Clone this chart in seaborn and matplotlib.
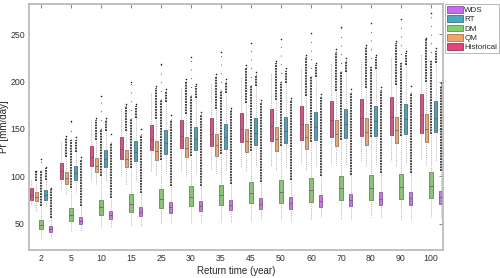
# Return-level boxplots: historical vs. four downscaling methods
import numpy as np
import pandas as pd
import matplotlib
matplotlib.use("Agg")
import matplotlib.pyplot as plt
import matplotlib.colors as mcolors
from matplotlib.patches import Patch
import seaborn as sns

sns.set_theme(style="white")
plt.rcParams["font.family"] = ["Liberation Sans", "DejaVu Sans"]

# Parameters
return_time = [2, 5, 10, 15, 25, 30, 35, 45, 50, 60, 70, 80, 90, 100]
methods = ["Historical", "QM", "DM", "RT", "WDS"]        # left-to-right inside a group
legend_order = ["WDS", "RT", "DM", "QM", "Historical"]
palette = {"Historical": "#E2457C", "QM": "#F2A46E", "DM": "#86CF6E",
           "RT": "#4EA7BE", "WDS": "#C76DEB"}

# Box statistics (mm/day)
hist_lo  = [70, 86, 94.6, 99.9, 104, 105, 107, 109.4, 111, 113, 113, 115.7, 115.7, 118]
hist_q1  = [74.6, 97.4, 110.4, 118.5, 127.3, 129.8, 131.5, 135.7, 136.8, 138.6, 141, 142, 143.8, 145.6]
hist_med = [80, 105, 120, 129, 139, 143, 145, 150, 153, 155, 159, 161, 163, 165]
hist_q3  = [87.6, 114, 131.5, 141.4, 153.6, 158.9, 161.4, 167.3, 171, 174.7, 179, 181.8, 184.2, 186.7]
hist_hi  = [96, 135.7, 159.6, 172, 187.8, 193, 198, 205, 208.9, 214, 219.4, 223, 226.4, 229]
hist_dense = hist_hi
hist_max = hist_hi

qm_lo  = [63, 80.6, 91, 91, 99.9, 100, 102.7, 105, 105, 107, 110.4, 110.4, 110.4, 112]
qm_q1  = [73.5, 92, 104, 109.8, 117.5, 119.9, 121.7, 125.6, 127, 128.7, 131.5, 133.3, 135, 135.7]
qm_med = [78, 98, 111, 118, 127, 130, 133, 137, 139, 141, 145, 147, 149, 150]
qm_q3  = [83.4, 104.5, 119.3, 127.3, 137.5, 141.4, 144.9, 149.8, 152, 155.4, 159, 161.4, 163, 165.7]
qm_hi  = [95, 120, 138, 148, 160, 166, 171, 177, 180, 185, 190, 193, 196, 200]
qm_dense = [105, 140, 159.6, 173.7, 193, 200, 205, 214.8, 219.4, 226, 231.7, 237, 241, 244.7]
qm_max = [106, 142, 162, 176, 195, 203, 208, 217, 222, 228, 234, 239, 243, 246]

dm_lo  = [33, 40.5, 45.5, 47, 50, 50.7, 51.8, 52.4, 53.5, 54.2, 53.5, 55.3, 54.2, 56]
dm_q1  = [43.7, 52.4, 58.8, 62.3, 66.5, 68.2, 69.3, 71.8, 71.8, 72.9, 74.6, 75.3, 76.4, 77]
dm_med = [48.5, 59, 67, 71, 76, 78, 80, 82, 83, 85, 87, 88, 89, 90]
dm_q3  = [53.5, 66.5, 75.3, 81, 86.6, 89.3, 91, 94, 95.7, 98.2, 99.9, 101.7, 102.7, 104]
dm_hi  = [68, 87.5, 100, 109, 117, 121, 123.5, 127, 131.5, 136, 138, 141, 142, 144.5]
dm_dense = [105, 138, 150, 160, 180, 185, 190, 195, 200, 205, 210, 215, 220, 222]
dm_max = [118.5, 158.6, 185, 200, 219, 226, 231.7, 241, 244.7, 251.7, 258, 261.6, 265.8, 272]

rt_lo  = [67, 82.7, 93.6, 96.4, 102.7, 103.4, 105, 110, 108.7, 110.4, 112, 113, 114, 115.7]
rt_q1  = [75.3, 96.4, 109.4, 115.7, 123.8, 127.3, 129, 133.3, 135, 137.8, 140.3, 142.8, 144.6, 146.3]
rt_med = [80, 103, 118, 126, 135, 139, 141, 146, 148, 152, 155, 158, 160, 162]
rt_q3  = [85, 111, 128, 136.8, 148.4, 152, 155.4, 161.4, 163, 167.8, 171.2, 173.7, 176.5, 179]
rt_hi  = [96, 126, 148, 161, 178, 183, 188, 195, 199, 205, 210, 213, 218, 220]
rt_dense = [108.7, 138.6, 159.6, 173.7, 189.5, 194.8, 200, 207, 211, 217.6, 222, 225.7, 230, 232.7]
rt_max = [110, 141, 162, 176, 192, 197, 203, 210, 214, 220, 225, 228, 232, 235]

wds_lo  = [35, 42, 45.8, 47, 50.7, 50.7, 50.7, 54, 52.4, 56, 54, 56, 54.2, 56]
wds_q1  = [40.8, 49.7, 55, 57.7, 61.3, 63, 64, 65.5, 65.8, 67.6, 68.2, 69.3, 70, 71]
wds_med = [44, 53, 59, 62.5, 67, 68, 69.5, 71, 72, 74, 75, 76, 77, 78]
wds_q3  = [47, 57, 63.7, 67.6, 72.5, 73.5, 75.3, 77, 78, 80.6, 81.6, 83, 83.4, 84.8]
wds_hi  = [56, 68, 77, 82.5, 89.5, 89.5, 92, 94, 96, 100, 101.6, 103.5, 103.4, 105.5]
wds_dense = [86, 117, 135, 143.8, 159.6, 165, 170, 177, 180, 184, 187.8, 191, 187.8, 194.8]
wds_max = [88, 120, 145, 150, 165, 168, 172, 180, 183, 187, 192, 194, 195, 198]

stats = {
    "Historical": (hist_lo, hist_q1, hist_med, hist_q3, hist_hi, hist_dense, hist_max),
    "QM": (qm_lo, qm_q1, qm_med, qm_q3, qm_hi, qm_dense, qm_max),
    "DM": (dm_lo, dm_q1, dm_med, dm_q3, dm_hi, dm_dense, dm_max),
    "RT": (rt_lo, rt_q1, rt_med, rt_q3, rt_hi, rt_dense, rt_max),
    "WDS": (wds_lo, wds_q1, wds_med, wds_q3, wds_hi, wds_dense, wds_max),
}

# Long table: five values per box reproduce the quartiles exactly
rows = []
for m in methods:
    lo, q1, med, q3, hi = stats[m][:5]
    for i, t in enumerate(return_time):
        for v in (lo[i], q1[i], med[i], q3[i], hi[i]):
            rows.append((str(t), m, v))
df = pd.DataFrame(rows, columns=["time", "method", "pr"])
order = [str(t) for t in return_time]

fig = plt.figure(figsize=(5.0, 2.78), dpi=100)
ax = fig.add_axes([0.058, 0.1007, 0.828, 0.885])

sns.boxplot(data=df, x="time", y="pr", hue="method", order=order, hue_order=methods,
            palette=palette, whis=(0, 100), showfliers=False, width=0.8, gap=0.3,
            linewidth=0.6, legend=False, ax=ax,
            whiskerprops=dict(linestyle=(0, (1, 1.2)), color="0.65", linewidth=0.6),
            capprops=dict(linewidth=0),
            medianprops=dict(color="0.35", linewidth=0.5))

# darker edge per box
for p in ax.patches:
    fc = np.array(mcolors.to_rgb(p.get_facecolor()))
    p.set_edgecolor(fc * 0.7)

# outliers: dense column above the whisker, then sparse points up to the max
n = len(methods)
offsets = (np.arange(n) - (n - 1) / 2) * 0.8 / n
xs = np.arange(len(return_time))
for j, m in enumerate(methods):
    hi, dense, fmax = stats[m][4], stats[m][5], stats[m][6]
    pos = xs + offsets[j]
    hi, dense, fmax = np.array(hi), np.array(dense), np.array(fmax)
    ax.vlines(pos, hi, dense, colors="0.05", linestyles=(0, (1.2, 0.6)), linewidth=1.1)
    ax.vlines(pos, dense, fmax, colors="0.35", linestyles=(0, (0.8, 7)), linewidth=0.8)
    keep = fmax > hi
    ax.scatter(pos[keep], fmax[keep], s=1.2, color="0.1", linewidths=0)

ax.set_xlim(-0.4, len(return_time) - 0.6)
ax.set_ylim(22, 282)
ax.set_yticks([50, 100, 150, 200, 250])
ax.set_xlabel("Return time (year)", fontsize=7, color="0.15", labelpad=2)
ax.set_ylabel("Pr [mm/day]", fontsize=7, color="0.15", labelpad=1)
ax.tick_params(direction="in", top=True, right=True, length=3, width=0.6,
               color="0.45", labelsize=6.3, labelcolor="0.2", pad=3)
for s in ax.spines.values():
    s.set_color("#b5b5b5")
    s.set_linewidth(1.2)

handles = [Patch(facecolor=palette[m], edgecolor=np.array(mcolors.to_rgb(palette[m])) * 0.7,
                 linewidth=0.6, label=m) for m in legend_order]
leg = ax.legend(handles=handles, loc="upper left", bbox_to_anchor=(1.006, 1.0),
                fontsize=5.8, frameon=True, fancybox=False, borderaxespad=0,
                handlelength=1.9, handleheight=0.9, handletextpad=0.2,
                labelspacing=0.15, borderpad=0.25)
leg.get_frame().set_edgecolor("0.6")
leg.get_frame().set_linewidth(0.6)

fig.savefig("out.png", dpi=100)
